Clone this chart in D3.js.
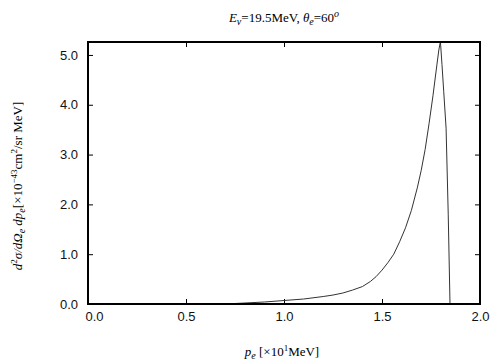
<!DOCTYPE html>
<html>
<head>
<meta charset="utf-8">
<script src="https://cdn.jsdelivr.net/npm/d3@7"></script>
<style>
  body { margin: 0; background: #fff; }
  .tick text { font-family: "Liberation Sans", Arial, sans-serif; font-size: 13px; fill: #111; }
  .lbl { font-family: "Liberation Serif", "Times New Roman", serif; font-size: 13px; fill: #000; }
</style>
</head>
<body>
<svg id="chart" width="504" height="360"></svg>
<script>
// momentum p_e [x10 MeV]
const pe = [0.70, 0.80, 0.90, 1.00, 1.10, 1.20, 1.25, 1.30, 1.35, 1.40, 1.44, 1.47, 1.50, 1.53, 1.56,
            1.59, 1.62, 1.65, 1.68, 1.70, 1.72, 1.74, 1.76, 1.78, 1.79, 1.798,
            1.806, 1.815, 1.827, 1.838, 1.847];
// cross section [x10^-43 cm^2/sr MeV]
const sigma = [0.0, 0.02, 0.04, 0.07, 0.10, 0.15, 0.18, 0.22, 0.28, 0.35, 0.45, 0.55, 0.68, 0.83, 1.00,
               1.25, 1.53, 1.88, 2.33, 2.68, 3.10, 3.62, 4.18, 4.80, 5.10, 5.27,
               4.81, 4.26, 3.53, 1.79, 0.0];
const xTicks = [0.0, 0.5, 1.0, 1.5, 2.0];
const yTicks = [0.0, 1.0, 2.0, 3.0, 4.0, 5.0];

const svg = d3.select("#chart");
const L = 88, R = 480, T = 42, B = 304;

const x = d3.scaleLinear().domain([0, 2]).range([L, R]);
const y = d3.scaleLinear().domain([0, 5.26]).range([B, T]);

// osie z tickami do wewnatrz
svg.append("g").attr("transform", `translate(0,${B})`)
  .call(d3.axisBottom(x).tickValues(xTicks).tickFormat(d3.format(".1f")).tickSizeInner(-5).tickSizeOuter(0).tickPadding(8))
  .call(g => g.select(".domain").remove())
  .call(g => g.select(".tick text").attr("dx", 6));
svg.append("g").attr("transform", `translate(0,${T})`)
  .call(d3.axisTop(x).tickValues(xTicks.slice(1, -1)).tickFormat("").tickSizeInner(-5).tickSizeOuter(0))
  .call(g => g.select(".domain").remove());
svg.append("g").attr("transform", `translate(${L},0)`)
  .call(d3.axisLeft(y).tickValues(yTicks).tickFormat(d3.format(".1f")).tickSizeInner(-5).tickSizeOuter(0).tickPadding(10))
  .call(g => g.select(".domain").remove());
svg.append("g").attr("transform", `translate(${R},0)`)
  .call(d3.axisRight(y).tickValues(yTicks.slice(1)).tickFormat("").tickSizeInner(-5).tickSizeOuter(0))
  .call(g => g.select(".domain").remove());
svg.selectAll(".tick line").attr("stroke", "#000");

// krzywa
const line = d3.line().x(d => x(d[0])).y(d => y(d[1]));
svg.append("path")
  .datum(d3.zip(pe, sigma))
  .attr("d", line)
  .attr("fill", "none")
  .attr("stroke", "#333")
  .attr("stroke-width", 1);

// ramka
svg.append("rect")
  .attr("x", L).attr("y", T).attr("width", R - L).attr("height", B - T)
  .attr("fill", "none").attr("stroke", "#000").attr("stroke-width", 2);

// tytul
const title = svg.append("text").attr("class", "lbl").attr("x", 284).attr("y", 22).attr("text-anchor", "middle");
title.append("tspan").attr("font-style", "italic").text("E");
title.append("tspan").attr("font-style", "italic").attr("font-size", 10).attr("dy", 3).text("ν");
title.append("tspan").attr("dy", -3).text("=19.5MeV,  ");
title.append("tspan").attr("font-style", "italic").text("θ");
title.append("tspan").attr("font-style", "italic").attr("font-size", 10).attr("dy", 3).text("e");
title.append("tspan").attr("dy", -3).text("=60");
title.append("tspan").attr("font-style", "italic").attr("font-size", 10).attr("dy", -5).text("o");

// etykieta osi x
const xl = svg.append("text").attr("class", "lbl").attr("x", 282).attr("y", 356).attr("text-anchor", "middle");
xl.append("tspan").attr("font-style", "italic").text("p");
xl.append("tspan").attr("font-style", "italic").attr("font-size", 10).attr("dy", 3).text("e");
xl.append("tspan").attr("dy", -3).text(" [×10");
xl.append("tspan").attr("font-size", 9).attr("dy", -5).text("1");
xl.append("tspan").attr("dy", 5).text("MeV]");

// etykieta osi y
const yl = svg.append("text").attr("class", "lbl")
  .attr("transform", "translate(22,186) rotate(-90)").attr("text-anchor", "middle");
yl.append("tspan").attr("font-style", "italic").text("d");
yl.append("tspan").attr("font-size", 9).attr("dy", -5).text("2");
yl.append("tspan").attr("font-style", "italic").attr("dy", 5).text("σ/dΩ");
yl.append("tspan").attr("font-style", "italic").attr("font-size", 10).attr("dy", 3).text("e");
yl.append("tspan").attr("font-style", "italic").attr("dy", -3).text(" dp");
yl.append("tspan").attr("font-style", "italic").attr("font-size", 10).attr("dy", 3).text("e");
yl.append("tspan").attr("dy", -3).text("[×10");
yl.append("tspan").attr("font-size", 9).attr("dy", -5).text("−43");
yl.append("tspan").attr("dy", 5).text("cm");
yl.append("tspan").attr("font-size", 9).attr("dy", -5).text("2");
yl.append("tspan").attr("dy", 5).text("/sr MeV]");
</script>
</body>
</html>
